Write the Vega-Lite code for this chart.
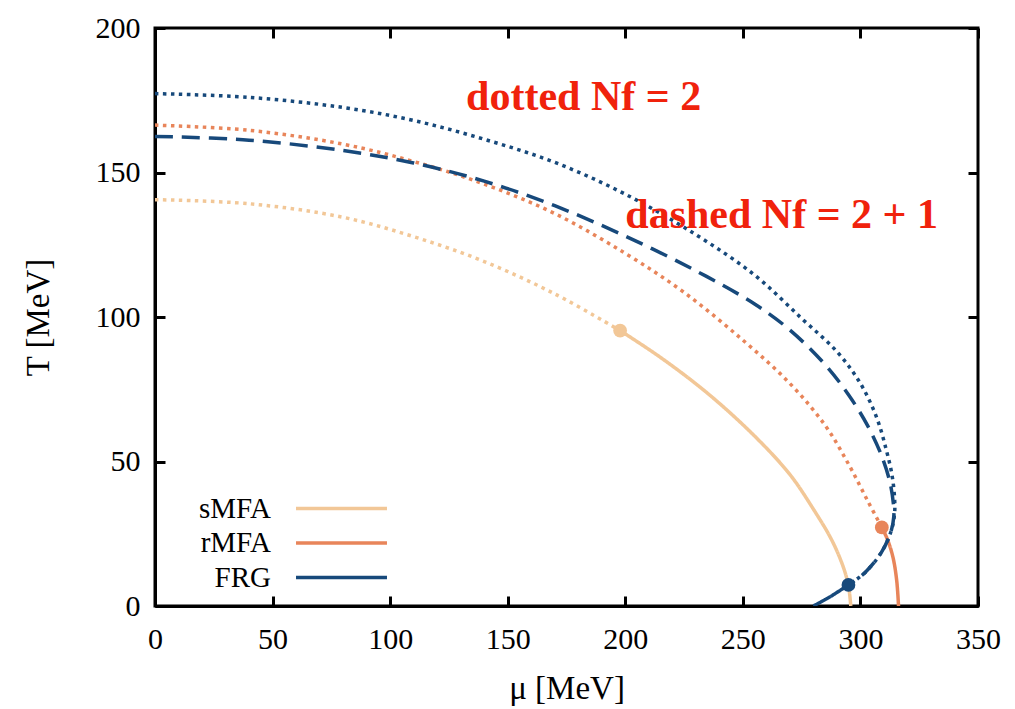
{
  "$schema": "https://vega.github.io/schema/vega-lite/v6.json",
  "width": 823,
  "height": 578,
  "autosize": {"type": "none"},
  "padding": {"left": 155, "top": 28, "right": 37, "bottom": 103},
  "background": "white",
  "config": {
    "view": {"stroke": "black", "strokeWidth": 3},
    "font": "Liberation Serif",
    "axis": {
      "labelFont": "Liberation Serif",
      "titleFont": "Liberation Serif",
      "labelFontSize": 30,
      "titleFontSize": 33,
      "titleFontWeight": "normal",
      "labelColor": "black",
      "titleColor": "black",
      "domainColor": "black",
      "domainWidth": 3,
      "tickColor": "black",
      "tickWidth": 3,
      "tickSize": -10,
      "grid": false
    }
  },
  "datasets": {
    "curves": [
      {"seg": "s1", "series": "sMFA", "style": "dotted", "k": 1, "mu": 0, "T": 140.6},
      {"seg": "s1", "series": "sMFA", "style": "dotted", "k": 2, "mu": 40, "T": 139.2},
      {"seg": "s1", "series": "sMFA", "style": "dotted", "k": 3, "mu": 80, "T": 134.5},
      {"seg": "s1", "series": "sMFA", "style": "dotted", "k": 4, "mu": 110, "T": 127.8},
      {"seg": "s1", "series": "sMFA", "style": "dotted", "k": 5, "mu": 140, "T": 119.2},
      {"seg": "s1", "series": "sMFA", "style": "dotted", "k": 6, "mu": 170, "T": 108.0},
      {"seg": "s1", "series": "sMFA", "style": "dotted", "k": 7, "mu": 197.8, "T": 95.3},
      {"seg": "s2", "series": "sMFA", "style": "solid", "k": 1, "mu": 197.8, "T": 95.3},
      {"seg": "s2", "series": "sMFA", "style": "solid", "k": 2, "mu": 215, "T": 86.0},
      {"seg": "s2", "series": "sMFA", "style": "solid", "k": 3, "mu": 235, "T": 73.6},
      {"seg": "s2", "series": "sMFA", "style": "solid", "k": 4, "mu": 255, "T": 58.8},
      {"seg": "s2", "series": "sMFA", "style": "solid", "k": 5, "mu": 270, "T": 45.5},
      {"seg": "s2", "series": "sMFA", "style": "solid", "k": 6, "mu": 280, "T": 33.5},
      {"seg": "s2", "series": "sMFA", "style": "solid", "k": 7, "mu": 288, "T": 22.5},
      {"seg": "s2", "series": "sMFA", "style": "solid", "k": 8, "mu": 293, "T": 12.8},
      {"seg": "s2", "series": "sMFA", "style": "solid", "k": 9, "mu": 295, "T": 6.5},
      {"seg": "s2", "series": "sMFA", "style": "solid", "k": 10, "mu": 295.9, "T": 0},
      {"seg": "r1", "series": "rMFA", "style": "dotted", "k": 1, "mu": 0, "T": 166.4},
      {"seg": "r1", "series": "rMFA", "style": "dotted", "k": 2, "mu": 40, "T": 164.6},
      {"seg": "r1", "series": "rMFA", "style": "dotted", "k": 3, "mu": 80, "T": 159.8},
      {"seg": "r1", "series": "rMFA", "style": "dotted", "k": 4, "mu": 110, "T": 153.8},
      {"seg": "r1", "series": "rMFA", "style": "dotted", "k": 5, "mu": 140, "T": 146.0},
      {"seg": "r1", "series": "rMFA", "style": "dotted", "k": 6, "mu": 170, "T": 135.8},
      {"seg": "r1", "series": "rMFA", "style": "dotted", "k": 7, "mu": 200, "T": 122.0},
      {"seg": "r1", "series": "rMFA", "style": "dotted", "k": 8, "mu": 225, "T": 108.5},
      {"seg": "r1", "series": "rMFA", "style": "dotted", "k": 9, "mu": 250, "T": 92.0},
      {"seg": "r1", "series": "rMFA", "style": "dotted", "k": 10, "mu": 270, "T": 77.0},
      {"seg": "r1", "series": "rMFA", "style": "dotted", "k": 11, "mu": 285, "T": 62.5},
      {"seg": "r1", "series": "rMFA", "style": "dotted", "k": 12, "mu": 295, "T": 49.0},
      {"seg": "r1", "series": "rMFA", "style": "dotted", "k": 13, "mu": 303, "T": 36.5},
      {"seg": "r1", "series": "rMFA", "style": "dotted", "k": 14, "mu": 309.1, "T": 27.2},
      {"seg": "r2", "series": "rMFA", "style": "solid", "k": 1, "mu": 309.1, "T": 27.2},
      {"seg": "r2", "series": "rMFA", "style": "solid", "k": 2, "mu": 311.5, "T": 23.0},
      {"seg": "r2", "series": "rMFA", "style": "solid", "k": 3, "mu": 313.8, "T": 17.0},
      {"seg": "r2", "series": "rMFA", "style": "solid", "k": 4, "mu": 315.4, "T": 9.0},
      {"seg": "r2", "series": "rMFA", "style": "solid", "k": 5, "mu": 316.2, "T": 0},
      {"seg": "f1", "series": "FRG", "style": "dotted", "k": 1, "mu": 0, "T": 177.3},
      {"seg": "f1", "series": "FRG", "style": "dotted", "k": 2, "mu": 40, "T": 176.0},
      {"seg": "f1", "series": "FRG", "style": "dotted", "k": 3, "mu": 80, "T": 172.5},
      {"seg": "f1", "series": "FRG", "style": "dotted", "k": 4, "mu": 110, "T": 168.0},
      {"seg": "f1", "series": "FRG", "style": "dotted", "k": 5, "mu": 140, "T": 161.5},
      {"seg": "f1", "series": "FRG", "style": "dotted", "k": 6, "mu": 170, "T": 153.5},
      {"seg": "f1", "series": "FRG", "style": "dotted", "k": 7, "mu": 200, "T": 142.5},
      {"seg": "f1", "series": "FRG", "style": "dotted", "k": 8, "mu": 230, "T": 128.5},
      {"seg": "f1", "series": "FRG", "style": "dotted", "k": 9, "mu": 255, "T": 114.5},
      {"seg": "f1", "series": "FRG", "style": "dotted", "k": 10, "mu": 275, "T": 99.5},
      {"seg": "f1", "series": "FRG", "style": "dotted", "k": 11, "mu": 290, "T": 88.0},
      {"seg": "f1", "series": "FRG", "style": "dotted", "k": 12, "mu": 300, "T": 77.0},
      {"seg": "f1", "series": "FRG", "style": "dotted", "k": 13, "mu": 307, "T": 65.0},
      {"seg": "f1", "series": "FRG", "style": "dotted", "k": 14, "mu": 311, "T": 54.0},
      {"seg": "f1", "series": "FRG", "style": "dotted", "k": 15, "mu": 313.5, "T": 45.0},
      {"seg": "f1", "series": "FRG", "style": "dotted", "k": 16, "mu": 314.6, "T": 36.0},
      {"seg": "f1", "series": "FRG", "style": "dotted", "k": 17, "mu": 314.4, "T": 31.0},
      {"seg": "f1", "series": "FRG", "style": "dotted", "k": 18, "mu": 313.0, "T": 25.8},
      {"seg": "f1", "series": "FRG", "style": "dotted", "k": 19, "mu": 309.1, "T": 18.8},
      {"seg": "f1", "series": "FRG", "style": "dotted", "k": 20, "mu": 302.0, "T": 11.6},
      {"seg": "f1", "series": "FRG", "style": "dotted", "k": 21, "mu": 294.9, "T": 7.3},
      {"seg": "f2", "series": "FRG", "style": "dashed", "k": 1, "mu": 0, "T": 162.5},
      {"seg": "f2", "series": "FRG", "style": "dashed", "k": 2, "mu": 40, "T": 161.2},
      {"seg": "f2", "series": "FRG", "style": "dashed", "k": 3, "mu": 80, "T": 157.6},
      {"seg": "f2", "series": "FRG", "style": "dashed", "k": 4, "mu": 110, "T": 153.3},
      {"seg": "f2", "series": "FRG", "style": "dashed", "k": 5, "mu": 140, "T": 147.0},
      {"seg": "f2", "series": "FRG", "style": "dashed", "k": 6, "mu": 170, "T": 138.5},
      {"seg": "f2", "series": "FRG", "style": "dashed", "k": 7, "mu": 200, "T": 128.0},
      {"seg": "f2", "series": "FRG", "style": "dashed", "k": 8, "mu": 230, "T": 116.0},
      {"seg": "f2", "series": "FRG", "style": "dashed", "k": 9, "mu": 255, "T": 104.5},
      {"seg": "f2", "series": "FRG", "style": "dashed", "k": 10, "mu": 270, "T": 95.5},
      {"seg": "f2", "series": "FRG", "style": "dashed", "k": 11, "mu": 285, "T": 83.5},
      {"seg": "f2", "series": "FRG", "style": "dashed", "k": 12, "mu": 295, "T": 73.0},
      {"seg": "f2", "series": "FRG", "style": "dashed", "k": 13, "mu": 303, "T": 62.5},
      {"seg": "f2", "series": "FRG", "style": "dashed", "k": 14, "mu": 309, "T": 52.0},
      {"seg": "f2", "series": "FRG", "style": "dashed", "k": 15, "mu": 312.5, "T": 43.0},
      {"seg": "f2", "series": "FRG", "style": "dashed", "k": 16, "mu": 314.0, "T": 35.5},
      {"seg": "f2", "series": "FRG", "style": "dashed", "k": 17, "mu": 314.2, "T": 31.0},
      {"seg": "f2", "series": "FRG", "style": "dashed", "k": 18, "mu": 313.0, "T": 25.8},
      {"seg": "f2", "series": "FRG", "style": "dashed", "k": 19, "mu": 309.1, "T": 18.8},
      {"seg": "f2", "series": "FRG", "style": "dashed", "k": 20, "mu": 302.0, "T": 11.6},
      {"seg": "f2", "series": "FRG", "style": "dashed", "k": 21, "mu": 294.9, "T": 7.3},
      {"seg": "f3", "series": "FRG", "style": "solid", "k": 1, "mu": 294.9, "T": 7.3},
      {"seg": "f3", "series": "FRG", "style": "solid", "k": 2, "mu": 287.1, "T": 3.2},
      {"seg": "f3", "series": "FRG", "style": "solid", "k": 3, "mu": 280, "T": 0}
    ],
    "cep": [
      {"series": "sMFA", "mu": 197.8, "T": 95.3},
      {"series": "rMFA", "mu": 309.1, "T": 27.2},
      {"series": "FRG", "mu": 294.9, "T": 7.3}
    ],
    "notes": [
      {"text": "dotted Nf = 2", "mu": 132.3, "T": 176.1},
      {"text": "dashed Nf = 2 + 1", "mu": 200, "T": 135.3}
    ]
  },
  "layer": [
    {
      "data": {"name": "curves"},
      "mark": {"type": "line", "interpolate": "catmull-rom", "strokeWidth": 3.5, "clip": true},
      "encoding": {
        "x": {"field": "mu", "type": "quantitative",
              "scale": {"domain": [0, 350], "nice": false, "zero": false},
              "axis": {"title": "μ [MeV]", "values": [0, 50, 100, 150, 200, 250, 300, 350],
                       "labelFont": "Liberation Serif", "titleFont": "Liberation Serif",
                       "labelFontSize": 30, "titleFontSize": 33, "titleFontWeight": "normal",
                       "labelPadding": 28, "titlePadding": 18, "labelFlush": false}},
        "y": {"field": "T", "type": "quantitative",
              "scale": {"domain": [0, 200], "nice": false},
              "axis": {"title": "T [MeV]", "values": [0, 50, 100, 150, 200],
                       "labelFont": "Liberation Serif", "titleFont": "Liberation Serif",
                       "labelFontSize": 30, "titleFontSize": 33, "titleFontWeight": "normal",
                       "labelPadding": 25, "titlePadding": 40, "labelFlush": false}},
        "color": {"field": "series", "type": "nominal",
                  "scale": {"domain": ["sMFA", "rMFA", "FRG"], "range": ["#F2C797", "#E8855A", "#17497B"]},
                  "legend": {"orient": "none", "legendX": 172, "legendY": 466, "title": null, "padding": 0,
                             "symbolType": "M-5,0H5", "symbolSize": 331, "symbolStrokeWidth": 3.5,
                             "labelAlign": "right", "labelOffset": -85, "labelFontSize": 29, "labelFont": "Liberation Serif",
                             "labelColor": "black", "rowPadding": 4.5, "labelLimit": 300}},
        "strokeDash": {"field": "style", "type": "nominal",
                       "scale": {"domain": ["solid", "dotted", "dashed"], "range": [[1, 0], [3.5, 4.5], [18, 9]]},
                       "legend": null},
        "detail": {"field": "seg"},
        "order": {"field": "k", "type": "quantitative"}
      }
    },
    {
      "data": {"name": "cep"},
      "mark": {"type": "point", "filled": true, "opacity": 1, "size": 190, "shape": "circle"},
      "encoding": {
        "x": {"field": "mu", "type": "quantitative",
              "axis": {"orient": "top", "labels": false, "title": null, "domain": false, "values": [0, 50, 100, 150, 200, 250, 300, 350]}},
        "y": {"field": "T", "type": "quantitative",
              "axis": {"orient": "right", "labels": false, "title": null, "domain": false, "values": [0, 50, 100, 150, 200]}},
        "color": {"field": "series", "type": "nominal", "legend": null}
      }
    },
    {
      "data": {"name": "notes"},
      "mark": {"type": "text", "align": "left", "baseline": "middle", "font": "Liberation Serif", "fontWeight": "bold", "fontSize": 42, "color": "#F0220C"},
      "encoding": {
        "x": {"field": "mu", "type": "quantitative", "axis": null},
        "y": {"field": "T", "type": "quantitative", "axis": null},
        "text": {"field": "text"}
      }
    }
  ],
  "resolve": {"axis": {"x": "independent", "y": "independent"}}
}
